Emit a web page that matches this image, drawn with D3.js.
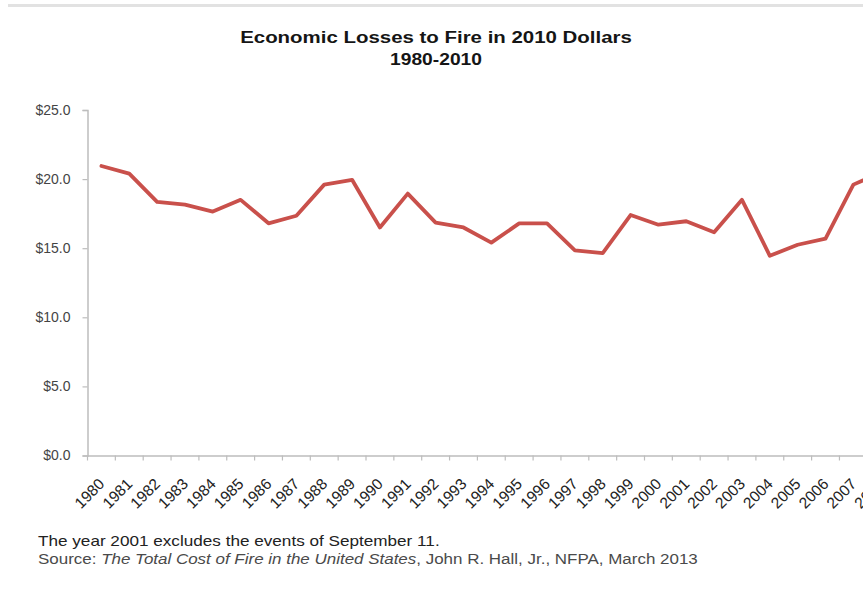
<!DOCTYPE html>
<html>
<head>
<meta charset="utf-8">
<script src="https://cdn.jsdelivr.net/npm/d3@7"></script>
<style>
  html, body { margin: 0; padding: 0; background: #fff; overflow: hidden; }
  svg { display: block; font-family: "Liberation Sans", Arial, Helvetica, sans-serif; }
</style>
</head>
<body>
<svg id="chart" width="863" height="612"></svg>
<script>
// ---- data ----
const years = ["1980","1981","1982","1983","1984","1985","1986","1987","1988","1989",
               "1990","1991","1992","1993","1994","1995","1996","1997","1998","1999",
               "2000","2001","2002","2003","2004","2005","2006","2007","2008","2009","2010"];
// losses in billions of 2010 dollars (values beyond 2008 are outside the visible frame)
const losses = [20.95, 20.4, 18.35, 18.15, 17.65, 18.5, 16.8, 17.35, 19.6, 19.95,
                16.5, 18.95, 16.85, 16.5, 15.4, 16.8, 16.8, 14.85, 14.65, 17.4,
                16.7, 16.95, 16.15, 18.5, 14.45, 15.25, 15.7, 19.6, 20.5, null, null];
const yTicks = [0, 5, 10, 15, 20, 25];
const titleLines = ["Economic Losses to Fire in 2010 Dollars", "1980-2010"];
const noteLine = "The year 2001 excludes the events of  September 11.";
const sourceParts = [
  {text: "Source:  ", italic: false},
  {text: "The Total Cost of Fire in the United States", italic: true},
  {text: ", John R. Hall, Jr., NFPA, March 2013", italic: false}
];

// ---- layout ----
const svg = d3.select("#chart");
const plotLeft = 87.5, plotTop = 110, plotBottom = 455.5, step = 27.85;

// helper: stretch a text element horizontally to a target width, keeping its anchor
function fitWidth(sel, target, anchorX) {
  const w = sel.node().getComputedTextLength();
  const s = target / w;
  sel.attr("transform", `translate(${anchorX},0) scale(${s},1) translate(${-anchorX},0)`);
}

// top grey rule (page border)
svg.append("rect").attr("x", 8).attr("y", 4).attr("width", 855).attr("height", 3).attr("fill", "#e2e2e2");

const x = d3.scaleBand().domain(years).range([plotLeft, plotLeft + step * years.length]).padding(0);
const y = d3.scaleLinear().domain([0, 25]).range([plotBottom, plotTop]);

// title
const titleWidths = [392, 92];
svg.append("g").selectAll("text").data(titleLines).join("text")
  .attr("x", 436).attr("y", (d, i) => 43.5 + i * 21.5)
  .attr("text-anchor", "middle")
  .attr("font-size", 16).attr("font-weight", "bold").attr("fill", "#151515")
  .text(d => d)
  .each(function(d, i) { fitWidth(d3.select(this), titleWidths[i], 436); });

// y axis
const yAxis = svg.append("g").attr("transform", `translate(${plotLeft},0)`)
  .call(d3.axisLeft(y).tickValues(yTicks).tickSize(5).tickPadding(12)
        .tickFormat(d => "$" + d3.format(".1f")(d)));
yAxis.select(".domain").attr("stroke", "#bdbdbd").attr("stroke-width", 1.5);
yAxis.selectAll(".tick line").attr("stroke", "#bdbdbd").attr("stroke-width", 1.2);
yAxis.selectAll(".tick text").attr("font-size", 14).attr("fill", "#444")
  .attr("font-family", "\"Liberation Sans\", Arial, sans-serif");

// x axis (ticks at category boundaries)
const xAxis = svg.append("g").attr("transform", `translate(0,${plotBottom})`)
  .call(d3.axisBottom(x).tickSize(0).tickFormat(""));
xAxis.select(".domain").attr("stroke", "#bdbdbd").attr("stroke-width", 1.5);
xAxis.selectAll(".tick").remove();
const boundaries = years.map(d => x(d)).concat([x(years[years.length - 1]) + x.bandwidth()]);
xAxis.selectAll("line.bt").data(boundaries).join("line").attr("class", "bt")
  .attr("x1", d => d).attr("x2", d => d).attr("y1", 0).attr("y2", 5)
  .attr("stroke", "#bdbdbd").attr("stroke-width", 1.2);
xAxis.selectAll("text.yl").data(years).join("text").attr("class", "yl")
  .attr("transform", d => `translate(${x(d) + x.bandwidth() / 2 + 4},${29.5}) rotate(-45)`)
  .attr("text-anchor", "end")
  .attr("font-size", 15.5).attr("fill", "#222")
  .text(d => d);

// line
const line = d3.line()
  .defined(d => d[1] != null)
  .x(d => x(d[0]) + x.bandwidth() / 2)
  .y(d => y(d[1]));
svg.append("path")
  .datum(years.map((yr, i) => [yr, losses[i]]))
  .attr("d", line)
  .attr("fill", "none")
  .attr("stroke", "#c9504b")
  .attr("stroke-width", 3.8)
  .attr("stroke-linejoin", "round")
  .attr("stroke-linecap", "round");

// footnotes
const note = svg.append("text").attr("x", 38).attr("y", 546)
  .attr("font-size", 14).attr("fill", "#222").text(noteLine);
fitWidth(note, 402, 38);
const src = svg.append("text").attr("x", 38).attr("y", 564.5)
  .attr("font-size", 14).attr("fill", "#4a4a4a");
src.selectAll("tspan").data(sourceParts).join("tspan")
  .attr("font-style", d => d.italic ? "italic" : "normal")
  .text(d => d.text);
fitWidth(src, 660, 38);
</script>
</body>
</html>
